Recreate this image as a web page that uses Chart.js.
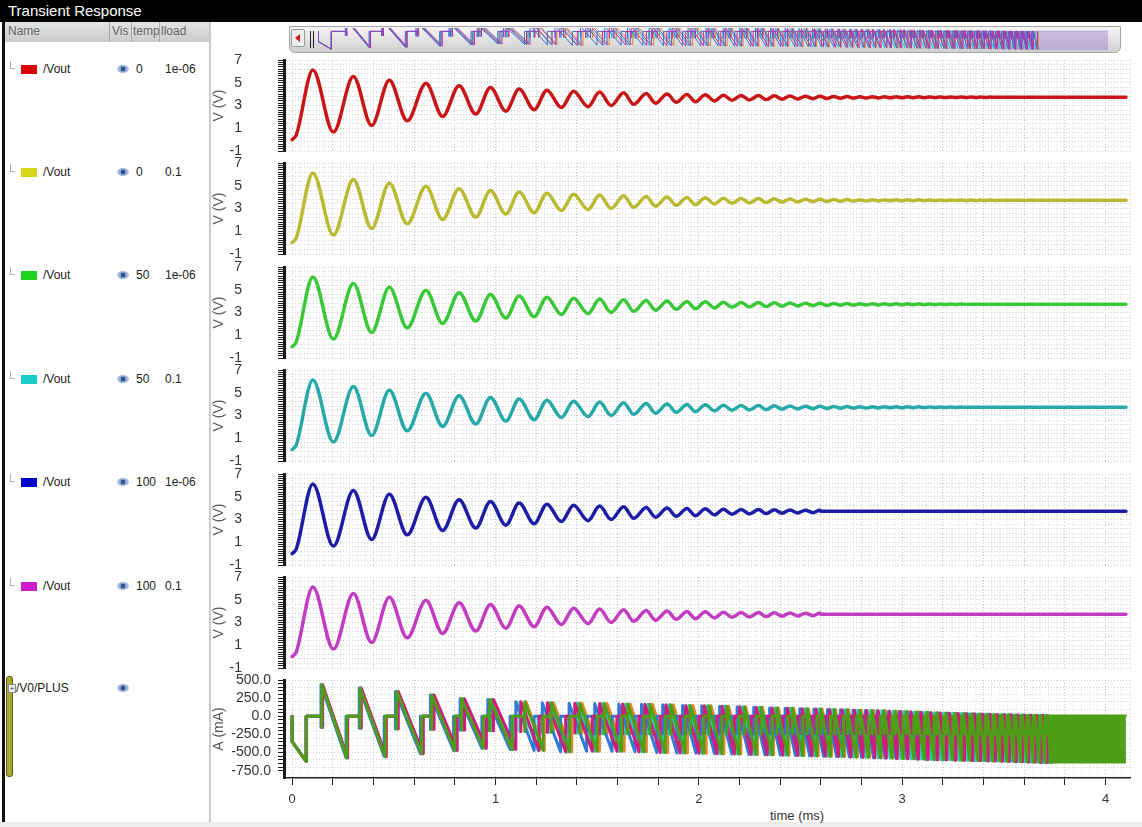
<!DOCTYPE html>
<html>
<head>
<meta charset="utf-8">
<title>Transient Response</title>
<script src="https://cdn.jsdelivr.net/npm/chart.js@4.4.1/dist/chart.umd.min.js"></script>
<style>
  body { margin:0; width:1142px; height:827px; position:relative; overflow:hidden; background:#fff;
         font-family:"Liberation Sans", Arial, sans-serif; }
  canvas { position:absolute; }
  .abs { position:absolute; }
  #titlebar { left:0; top:0; width:1142px; height:22px; background:#000; color:#fff; font-size:15px;
              line-height:22px; padding-left:8px; box-sizing:border-box; }
  #edge { left:2px; top:22px; width:3px; height:800px; background:#111; }
  #header { left:5px; top:22px; width:204px; height:20px; background:linear-gradient(#e4e4e4,#cbcbcb);
            color:#666; font-size:12px; line-height:19px; }
  #header span { position:absolute; top:0; }
  #header i { position:absolute; top:0; width:1px; height:20px; background:#a8a8a8; }
  #divider { left:209px; top:22px; width:2px; height:805px; background:#cacaca; }
  #strip { left:0; top:822px; width:1142px; height:5px; background:#ededed; }
  .txt { position:absolute; font-size:12px; color:#222; line-height:16px; white-space:nowrap; }
  .tree { position:absolute; width:4px; height:7px; border-left:1px solid #b4b4b4; border-bottom:1px solid #b4b4b4; }
  .sw { position:absolute; width:16px; height:9px; }
  .eye { position:absolute; width:12px; height:8px; border-radius:50%;
         background:radial-gradient(circle at 50% 50%, #2d4f8f 0 2px, #8ea6cf 2.6px, #ccd7ec 100%); }
  #thumb { left:6px; top:676px; width:5px; height:99px; background:#a9a92e; border:1px solid #5a5a20; border-radius:3px; }
  #plus { left:8px; top:684px; width:6px; height:7px; border:1px solid #888; font-size:8px; line-height:7px; text-align:center; color:#444; background:#eee; }
  #overview { left:289px; top:26px; width:830px; height:25px; background:linear-gradient(#f6f6f6,#cfcfcf);
              border:1px solid #a4a4a4; border-radius:0 0 6px 6px; }
  #arrowbtn { left:291px; top:29px; width:12px; height:16px; border:1px solid #9a9a9a; background:#efefef; border-radius:2px; }
  #arrowbtn b { position:absolute; left:3px; top:4px; width:0; height:0; border-top:4px solid transparent;
                border-bottom:4px solid transparent; border-right:5px solid #d01818; }
  .bar { position:absolute; top:31px; width:1px; height:17px; background:#222; }
  #xtitle { left:770px; top:808px; font-size:13px; color:#333; }
</style>
</head>
<body>
<div id="titlebar" class="abs">Transient Response</div>
<div id="edge" class="abs"></div>
<div id="header" class="abs">
  <span style="left:3px">Name</span><i style="left:104px"></i>
  <span style="left:107px">Vis</span><i style="left:126px"></i>
  <span style="left:128px">temp</span><i style="left:154px"></i>
  <span style="left:156px">lload</span>
</div>
<div id="divider" class="abs"></div>
<div id="strip" class="abs"></div>
<div id="thumb" class="abs"></div>
<div id="plus" class="abs">+</div>
<div id="overview" class="abs"></div>
<div id="arrowbtn" class="abs"><b></b></div>
<div class="bar" style="left:310px"></div>
<div class="bar" style="left:313px"></div>
<div id="xtitle" class="abs">time (ms)</div>

<script>
// ---- values ----
const xMin = -0.04, xMax = 4.12;           // ms, plot edges
const sweepTemp = ['0', '0', '50', '50', '100', '100'];
const sweepLoad = ['1e-06', '0.1', '1e-06', '0.1', '1e-06', '0.1'];
const swatchColors = ['#d80000', '#d6d61e', '#1ed21e', '#1ccccc', '#0000cc', '#cc1ccc'];
const voutColors = ['#c81616', '#b9b932', '#38c838', '#27a9a9', '#1c1ca6', '#c23cc2'];
const rowY = [69, 172, 275, 379, 482, 586];
const panelTop = [60, 163, 267, 370, 474, 577];

// Vout ringing, alternating extremes
const vTimes = [0, 0.02, 0.102, 0.203, 0.301, 0.391, 0.478, 0.566, 0.658, 0.740,
  0.821, 0.903, 0.975, 1.051, 1.116, 1.190, 1.253, 1.324, 1.384, 1.455,
  1.512, 1.569, 1.630, 1.680, 1.741, 1.787, 1.844, 1.889, 1.941, 1.983,
  2.032, 2.077, 2.121, 2.163, 2.208, 2.248, 2.294, 2.330, 2.371, 2.409,
  2.448, 2.487, 2.524, 2.560, 2.595, 2.630, 2.664, 2.697, 2.729, 2.761, 2.792,
  2.823, 2.853, 2.883, 2.912, 2.941, 2.970, 2.998, 3.026, 3.054, 3.081,
  3.108, 3.135, 3.161, 3.187, 3.213, 3.239, 3.264, 3.289, 3.314, 3.339,
  3.363, 3.387, 3.411, 3.435, 3.459, 3.483, 3.506, 3.529, 3.552, 3.575, 3.598];
const vValues = [0.0, 0.4, 6.12, 0.66, 5.55, 1.24, 5.22, 1.65, 4.96, 2.03,
  4.74, 2.25, 4.58, 2.5, 4.45, 2.63, 4.35, 2.82, 4.26, 2.9,
  4.18, 3.0, 4.12, 3.1, 4.06, 3.2, 4.01, 3.28, 3.97, 3.34,
  3.94, 3.4, 3.91, 3.46, 3.89, 3.49, 3.87, 3.52, 3.85, 3.55,
  3.84, 3.58, 3.82, 3.60, 3.81, 3.62, 3.80, 3.64, 3.79, 3.65, 3.78,
  3.66, 3.78, 3.67, 3.77, 3.68, 3.77, 3.68, 3.76, 3.69, 3.76,
  3.69, 3.75, 3.70, 3.75, 3.70, 3.75, 3.70, 3.74, 3.71, 3.74,
  3.71, 3.74, 3.71, 3.74, 3.71, 3.73, 3.72, 3.73, 3.72, 3.73, 3.72];
const vSteady = 3.72, vEnd = 4.1;
const vSettle = [3.45, 3.6, 3.3, 3.3, 2.6, 2.6];

// /V0/PLUS current teeth (ms, mA)
const greenStart = [0.000, 0.146, 0.334, 0.514, 0.686, 0.833, 0.972, 1.144, 1.275, 1.414,
  1.535, 1.650, 1.760, 1.862, 1.958, 2.050, 2.138, 2.224, 2.306, 2.384,
  2.460, 2.532, 2.600, 2.666, 2.730, 2.792, 2.852, 2.910, 2.966, 3.020,
  3.072, 3.122, 3.170, 3.216, 3.260, 3.302, 3.342, 3.380, 3.418, 3.454,
  3.490, 3.524, 3.558, 3.590, 3.622, 3.652, 3.682, 3.712];
const magentaStart = [0.000, 0.150, 0.340, 0.522, 0.698, 0.848, 0.990, 1.125, 1.255, 1.390,
  1.512, 1.625, 1.735, 1.838, 1.935, 2.027, 2.115, 2.200, 2.282, 2.360,
  2.436, 2.508, 2.576, 2.642, 2.705, 2.766, 2.825, 2.882, 2.938, 2.992,
  3.044, 3.094, 3.142, 3.188, 3.233, 3.276, 3.318, 3.358, 3.396, 3.432,
  3.468, 3.502, 3.536, 3.568, 3.600, 3.632, 3.662, 3.692];
const blueStart = [0.000, 0.142, 0.330, 0.508, 0.680, 0.826, 0.962, 1.100, 1.230, 1.362,
  1.488, 1.606, 1.718, 1.822, 1.920, 2.014, 2.102, 2.188, 2.270, 2.348,
  2.424, 2.496, 2.566, 2.632, 2.696, 2.758, 2.818, 2.876, 2.932, 2.986,
  3.038, 3.088, 3.137, 3.184, 3.229, 3.272, 3.314, 3.354, 3.393, 3.430,
  3.466, 3.500, 3.534, 3.566, 3.598, 3.628, 3.658, 3.688];
const cyanStart = [0.000, 0.148, 0.338, 0.518, 0.692, 0.842, 0.982, 1.120, 1.262, 1.400,
  1.524, 1.640, 1.750, 1.852, 1.950, 2.042, 2.130, 2.214, 2.296, 2.374,
  2.450, 2.522, 2.590, 2.656, 2.720, 2.782, 2.842, 2.900, 2.955, 3.008,
  3.060, 3.110, 3.158, 3.204, 3.248, 3.290, 3.330, 3.370, 3.408, 3.444,
  3.480, 3.514, 3.548, 3.580, 3.612, 3.642, 3.672, 3.702];
const orangeStart = [0.000, 0.147, 0.336, 0.516, 0.690, 0.838, 0.978, 1.150, 1.285, 1.425,
  1.548, 1.662, 1.772, 1.874, 1.970, 2.060, 2.146, 2.230, 2.312, 2.390,
  2.466, 2.538, 2.606, 2.672, 2.736, 2.798, 2.858, 2.916, 2.972, 3.026,
  3.078, 3.128, 3.176, 3.222, 3.266, 3.308, 3.348, 3.386, 3.424, 3.460,
  3.496, 3.530, 3.563, 3.595, 3.627, 3.657, 3.687, 3.716];
const toothRamp = [0.069, 0.123, 0.123, 0.123, 0.114, 0.107, 0.110, 0.090, 0.090, 0.086,
  0.085, 0.080, 0.075, 0.070, 0.066, 0.063, 0.060, 0.058, 0.055, 0.053,
  0.051, 0.049, 0.047, 0.045, 0.044, 0.042, 0.041, 0.040, 0.038, 0.037,
  0.036, 0.034, 0.033, 0.032, 0.031, 0.030, 0.029, 0.028, 0.027, 0.026,
  0.025, 0.025, 0.024, 0.023, 0.022, 0.022, 0.021, 0.021];
const toothPeak = [-350, 435, 390, 341, 295, 240, 232, 201, 186, 180,
  175, 170, 165, 160, 150, 145, 140, 130, 125, 115,
  110, 105, 100, 95, 90, 85, 80, 75, 70, 65,
  60, 55, 50, 46, 42, 38, 35, 32, 29, 26,
  23, 21, 19, 17, 15, 14, 12, 10];
const toothDip = [-350, -150, -160, -170, -180, -190, -200, -210, -220, -230,
  -240, -240, -240, -240, -240, -240, -240, -240, -240, -240,
  -240, -240, -240, -240, -240, -240, -240, -240, -240, -240,
  -240, -240, -240, -240, -240, -240, -240, -240, -240, -240,
  -240, -240, -240, -240, -240, -240, -240, -240];
const toothTrough = [-620, -571, -555, -515, -470, -440, -455, -470, -490, -480,
  -480, -490, -500, -505, -510, -515, -520, -525, -530, -535,
  -540, -545, -550, -555, -560, -565, -570, -575, -580, -585,
  -590, -595, -600, -600, -605, -605, -610, -610, -615, -615,
  -620, -620, -625, -625, -630, -630, -635, -635];
const tailStart = 3.72, tailEnd = 4.10, tailTop = 12, tailBottom = -650;

const curSeries = [greenStart, magentaStart, blueStart, cyanStart, orangeStart];
const curColors = ['#4c9f16', '#d01c7a', '#2f7bd6', '#26d0b4', '#e0872a'];
const miniColors = ['#7c4bc9', '#d02c8c', '#2f7ad8', '#2cc6d0', '#e0872a'];

// ---- left list ----
function add(cls, left, top, text) {
  const d = document.createElement('div');
  d.className = cls;
  d.style.left = left + 'px';
  d.style.top = top + 'px';
  if (text !== undefined) d.textContent = text;
  document.body.appendChild(d);
  return d;
}
rowY.forEach((c, i) => {
  add('tree', 10, c - 8);
  add('sw', 21, c - 4).style.background = swatchColors[i];
  add('txt', 43, c - 8, '/Vout');
  add('eye', 117, c - 4);
  add('txt', 136, c - 8, sweepTemp[i]);
  add('txt', 165, c - 8, sweepLoad[i]);
});
add('txt', 16, 680, '/V0/PLUS');
add('eye', 117, 684);

// ---- charts ----
Chart.defaults.font.family = '"Liberation Sans", Arial, sans-serif';
const clear = 'rgba(0,0,0,0)';

function makeCanvas(left, top, w, h) {
  const c = document.createElement('canvas');
  c.width = w; c.height = h;
  c.style.left = left + 'px'; c.style.top = top + 'px';
  document.body.appendChild(c);
  return c;
}

// fixed axis boxes, so every panel lines up with its neighbours
function fixY(s) { s.width = 74; s.paddingTop = 0; s.paddingBottom = 0; }

function xScale(showTicks) {
  const onPlot = v => v > -0.001;
  return {
    type: 'linear', min: xMin, max: xMax,
    ticks: {
      display: showTicks, stepSize: 0.04, autoSkip: false, maxRotation: 0, minRotation: 0,
      padding: 7, color: '#333', font: { size: 13 },
      callback: v => { const r = Math.round(v * 25); return (onPlot(v) && r % 25 === 0) ? String(r / 25) : ''; }
    },
    grid: {
      drawTicks: showTicks, tickLength: 7, tickWidth: 1,
      color: c => {
        if (!c.tick) return '#dedede';
        const v = c.tick.value;
        if (!onPlot(v)) return clear;
        return Math.round(v * 25) % 5 === 0 ? '#c4c4c4' : '#e0e0e0';
      },
      tickColor: c => (c.tick && onPlot(c.tick.value) && Math.round(c.tick.value * 25) % 5 === 0) ? '#222' : clear
    },
    border: { display: showTicks, color: '#222', width: 1.5, dash: [1, 2] },
    afterFit: s => { s.height = showTicks ? 32 : 0; s.paddingLeft = 0; s.paddingRight = 0; }
  };
}

function voltY() {
  return {
    min: -1, max: 7,
    ticks: {
      stepSize: 0.2, autoSkip: false, padding: 36, color: '#333', font: { size: 14 },
      callback: v => { const r = Math.round(v * 5); return Math.abs(r % 10) === 5 ? String(r / 5) : ''; }
    },
    grid: { color: c => (c.index % 2 === 0) ? '#d2d2d2' : clear, tickColor: '#1a1a1a', tickLength: 6, tickWidth: 1 },
    border: { display: true, color: '#1a1a1a', width: 3, dash: [1, 2] },
    title: { display: true, text: 'V (V)', color: '#555', font: { size: 14 }, padding: { top: 1, bottom: 0 } },
    afterFit: fixY
  };
}

const baseOpts = {
  responsive: false, animation: false, devicePixelRatio: 1, events: [],
  plugins: { legend: { display: false }, tooltip: { enabled: false } },
  elements: { point: { radius: 0 }, line: { borderJoinStyle: 'round', borderCapStyle: 'round' } }
};

function voltPoints(settle) {
  const pts = [];
  for (let i = 0; i < vTimes.length && vTimes[i] < settle; i++) pts.push({ x: vTimes[i], y: vValues[i] });
  pts.push({ x: settle, y: vSteady }, { x: vEnd, y: vSteady });
  return pts;
}

panelTop.forEach((top, i) => {
  new Chart(makeCanvas(210, top - 10, 932, 111), {
    type: 'line',
    data: { datasets: [{
      data: voltPoints(vSettle[i]), borderColor: voutColors[i], borderWidth: 3.5,
      cubicInterpolationMode: 'monotone', fill: false
    }] },
    options: Object.assign({}, baseOpts, {
      layout: { padding: { top: 10, right: 12, bottom: 10, left: 0 } },
      scales: { x: xScale(false), y: voltY() }
    })
  });
});

function teethPoints(starts) {
  const pts = [{ x: 0, y: 0 }];
  starts.forEach((ts, i) => {
    const te = ts + toothRamp[i];
    pts.push({ x: ts, y: 0 }, { x: ts, y: toothDip[i] }, { x: ts, y: toothPeak[i] },
             { x: te, y: toothTrough[i] }, { x: te, y: 0 });
  });
  return pts;
}

function tailSet(color, width) {
  return {
    data: [{ x: tailStart, y: tailTop }, { x: tailEnd, y: tailTop }],
    borderColor: color, backgroundColor: color, borderWidth: width,
    fill: { value: tailBottom }
  };
}

const curSets = curSeries.map((s, i) => ({
  data: teethPoints(s), borderColor: curColors[i], borderWidth: 3, tension: 0, fill: false
}));
curSets.splice(1, 0, tailSet(curColors[0], 2));

new Chart(makeCanvas(210, 670, 932, 157), {
  type: 'line',
  data: { datasets: curSets },
  options: Object.assign({}, baseOpts, {
    layout: { padding: { top: 10, right: 12, bottom: 17, left: 0 } },
    scales: {
      x: xScale(true),
      y: {
        min: -850, max: 500,
        ticks: {
          stepSize: 50, autoSkip: false, padding: 7, color: '#333', font: { size: 14 },
          callback: v => (v >= -750 && Math.round(v) % 250 === 0) ? v.toFixed(1) : ''
        },
        grid: {
          color: c => { if (!c.tick) return '#d2d2d2'; const v = c.tick.value; return (v >= -760 && Math.round(v) % 100 === 0) ? '#d2d2d2' : clear; },
          tickColor: c => (c.tick && c.tick.value >= -760) ? '#1a1a1a' : clear, tickLength: 6
        },
        border: { display: true, color: '#1a1a1a', width: 3, dash: [1, 2] },
        title: { display: true, text: 'A (mA)', color: '#555', font: { size: 14 }, padding: { top: 1, bottom: 0 } },
        afterFit: fixY
      }
    }
  })
});

// overview strip in the scroll bar
const miniSets = curSeries.map((s, i) => ({
  data: teethPoints(s), borderColor: miniColors[i], borderWidth: 1, tension: 0, fill: false
}));
miniSets.push(tailSet('rgba(124,75,201,0.3)', 1));
new Chart(makeCanvas(318, 28, 794, 22), {
  type: 'line',
  data: { datasets: miniSets },
  options: Object.assign({}, baseOpts, {
    layout: { padding: 0 },
    scales: {
      x: { type: 'linear', display: false, min: 0, max: xMax },
      y: { display: false, min: -650, max: 120 }
    }
  })
});
</script>
</body>
</html>
